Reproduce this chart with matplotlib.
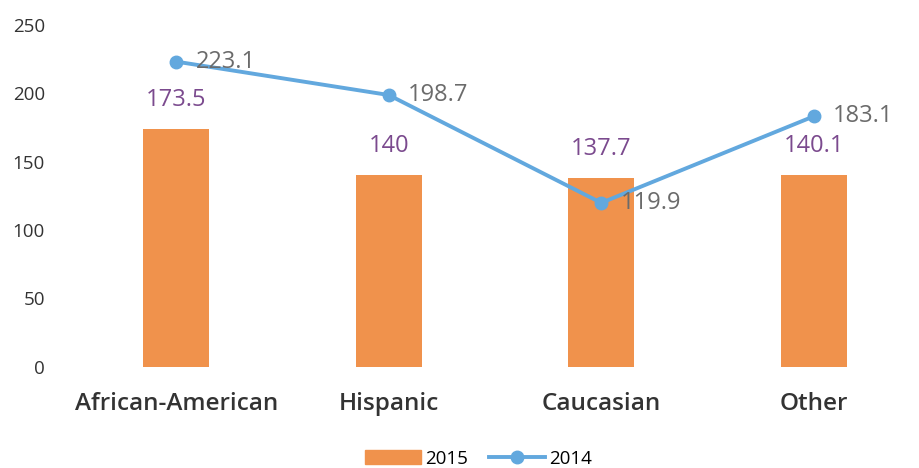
import matplotlib
matplotlib.use("Agg")
import matplotlib.pyplot as plt
from matplotlib.patches import Patch
from matplotlib.lines import Line2D

CATEGORIES = ["African-American", "Hispanic", "Caucasian", "Other"]
VALUES_2015 = [173.5, 140, 137.7, 140.1]
VALUES_2014 = [223.1, 198.7, 119.9, 183.1]
LABELS_2015 = ["173.5", "140", "137.7", "140.1"]
LABELS_2014 = ["223.1", "198.7", "119.9", "183.1"]
Y_TICKS = [0, 50, 100, 150, 200, 250]

BAR_COLOR = "#f0924c"
LINE_COLOR = "#62a8de"
BAR_LABEL_COLOR = "#7b4a8e"
LINE_LABEL_COLOR = "#6b6b6b"

plt.rcParams["font.family"] = ["Open Sans", "DejaVu Sans"]

fig = plt.figure(figsize=(9.2, 4.68), dpi=100)
ax = fig.add_axes([0.076, 0.216, 0.924, 0.731])

x = list(range(len(CATEGORIES)))
ax.bar(x, VALUES_2015, width=0.31, color=BAR_COLOR, zorder=2)
ax.plot(x, VALUES_2014, color=LINE_COLOR, lw=2.8, marker="o", ms=9, zorder=3)

for xi, v, lab in zip(x, VALUES_2015, LABELS_2015):
    ax.annotate(lab, xy=(xi, v), xytext=(0, 21), textcoords="offset points",
                ha="center", va="center", fontsize=17, color=BAR_LABEL_COLOR)
for xi, v, lab in zip(x, VALUES_2014, LABELS_2014):
    ax.annotate(lab, xy=(xi, v), xytext=(14, 0), textcoords="offset points",
                ha="left", va="center", fontsize=17, color=LINE_LABEL_COLOR, zorder=4)

ax.set_xlim(-0.5, len(CATEGORIES) - 0.5)
ax.set_ylim(0, 250)
ax.set_yticks(Y_TICKS)
ax.set_xticks(x)
ax.set_xticklabels(CATEGORIES, fontsize=17.5, fontweight="semibold", color="#333333")
ax.tick_params(axis="y", labelsize=13.5, colors="#333333", length=0, pad=18)
ax.tick_params(axis="x", length=0, pad=18)
for s in ax.spines.values():
    s.set_visible(False)

handles = [Patch(color=BAR_COLOR, label="2015"),
           Line2D([0], [0], color=LINE_COLOR, lw=2.8, marker="o", ms=9, label="2014")]
fig.legend(handles=handles, loc="lower center", ncol=2, frameon=False,
           fontsize=13.5, bbox_to_anchor=(0.52, -0.035), handlelength=3.0,
           handletextpad=0.2, columnspacing=1.1)

fig.savefig("out.png", dpi=100)
